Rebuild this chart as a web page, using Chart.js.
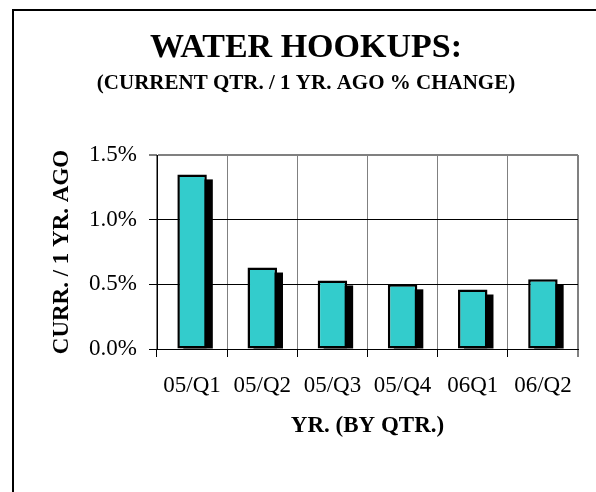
<!DOCTYPE html>
<html>
<head>
<meta charset="utf-8">
<script src="https://cdn.jsdelivr.net/npm/chart.js@4.4.0/dist/chart.umd.min.js"></script>
<style>
  html, body { margin: 0; padding: 0; background: #fff; }
  #wrap { position: relative; width: 596px; height: 492px; overflow: hidden; }
  #frame { position: absolute; left: 12px; top: 9px; width: 700px; height: 600px;
           border-left: 2px solid #000; border-top: 2px solid #000; pointer-events: none; }
  canvas { position: absolute; left: 0; top: 0; }
</style>
</head>
<body>
<div id="wrap">
  <canvas id="myChart" width="596" height="492"></canvas>
  <div id="frame"></div>
</div>
<script>
// data
const quarters = ['05/Q1', '05/Q2', '05/Q3', '05/Q4', '06Q1', '06/Q2'];
const pctChange = [1.35, 0.63, 0.53, 0.50, 0.46, 0.54];
const yTicks = [0, 0.5, 1.0, 1.5];

Chart.defaults.font.family = "'Liberation Serif', 'Times New Roman', serif";
Chart.defaults.color = '#000';

// black drop shadow behind each bar
const barShadow = {
    id: 'barShadow',
    beforeDatasetsDraw(chart) {
        const ctx = chart.ctx;
        const meta = chart.getDatasetMeta(0);
        ctx.save();
        ctx.fillStyle = '#000';
        meta.data.forEach(bar => {
            const p = bar.getProps(['x', 'y', 'base', 'width'], true);
            ctx.fillRect(p.x - p.width / 2 + 6, p.y + 5, p.width, p.base - p.y - 5);
        });
        ctx.restore();
    }
};

const ctx = document.getElementById('myChart').getContext('2d');
const myChart = new Chart(ctx, {
    type: 'bar',
    data: {
        labels: quarters,
        datasets: [{
            data: pctChange,
            backgroundColor: '#33CCCC',
            borderColor: '#000',
            borderWidth: 2.5,
            borderSkipped: false,
            barPercentage: 0.42,
            categoryPercentage: 1
        }]
    },
    options: {
        responsive: false,
        animation: false,
        layout: { padding: { left: 34, right: 18, top: 0, bottom: 52 } },
        plugins: {
            legend: { display: false },
            tooltip: { enabled: false },
            title: {
                display: true,
                text: 'WATER HOOKUPS:',
                font: { size: 34, weight: 'bold' },
                padding: { top: 28, bottom: 0 }
            },
            subtitle: {
                display: true,
                text: '(CURRENT QTR. / 1 YR. AGO % CHANGE)',
                font: { size: 21, weight: 'bold' },
                padding: { top: 2.6, bottom: 58.4 }
            }
        },
        scales: {
            x: {
                grid: {
                    offset: true,
                    color: '#808080',
                    lineWidth: c => c.type === 'tick' ? 1 : 2,
                    tickColor: '#000',
                    tickWidth: 1,
                    tickLength: 8
                },
                border: { color: '#000', width: 1 },
                ticks: { font: { size: 23 }, padding: 15, maxRotation: 0 },
                title: {
                    display: true,
                    text: 'YR. (BY QTR.)',
                    font: { size: 23, weight: 'bold' },
                    padding: { top: 0, bottom: 0 }
                },
                afterFit(scale) { scale.height = 91; }
            },
            y: {
                min: 0,
                max: 1.5,
                afterBuildTicks(scale) { scale.ticks = yTicks.map(v => ({ value: v })); },
                grid: {
                    color: c => c.tick && c.tick.value === 1.5 ? '#808080' : '#000',
                    lineWidth: c => c.tick && c.tick.value === 1.5 ? 2 : 1,
                    tickColor: '#000',
                    tickWidth: 1,
                    tickLength: 8
                },
                border: { color: '#000', width: 1 },
                ticks: {
                    font: { size: 23 },
                    padding: 12,
                    callback: v => v.toFixed(1) + '%'
                },
                title: {
                    display: true,
                    text: 'CURR. / 1 YR. AGO',
                    font: { size: 23, weight: 'bold' },
                    padding: { top: 14, bottom: 0 }
                },
                afterFit(scale) { scale.width = 123; }
            }
        }
    },
    plugins: [barShadow]
});
</script>
</body>
</html>
